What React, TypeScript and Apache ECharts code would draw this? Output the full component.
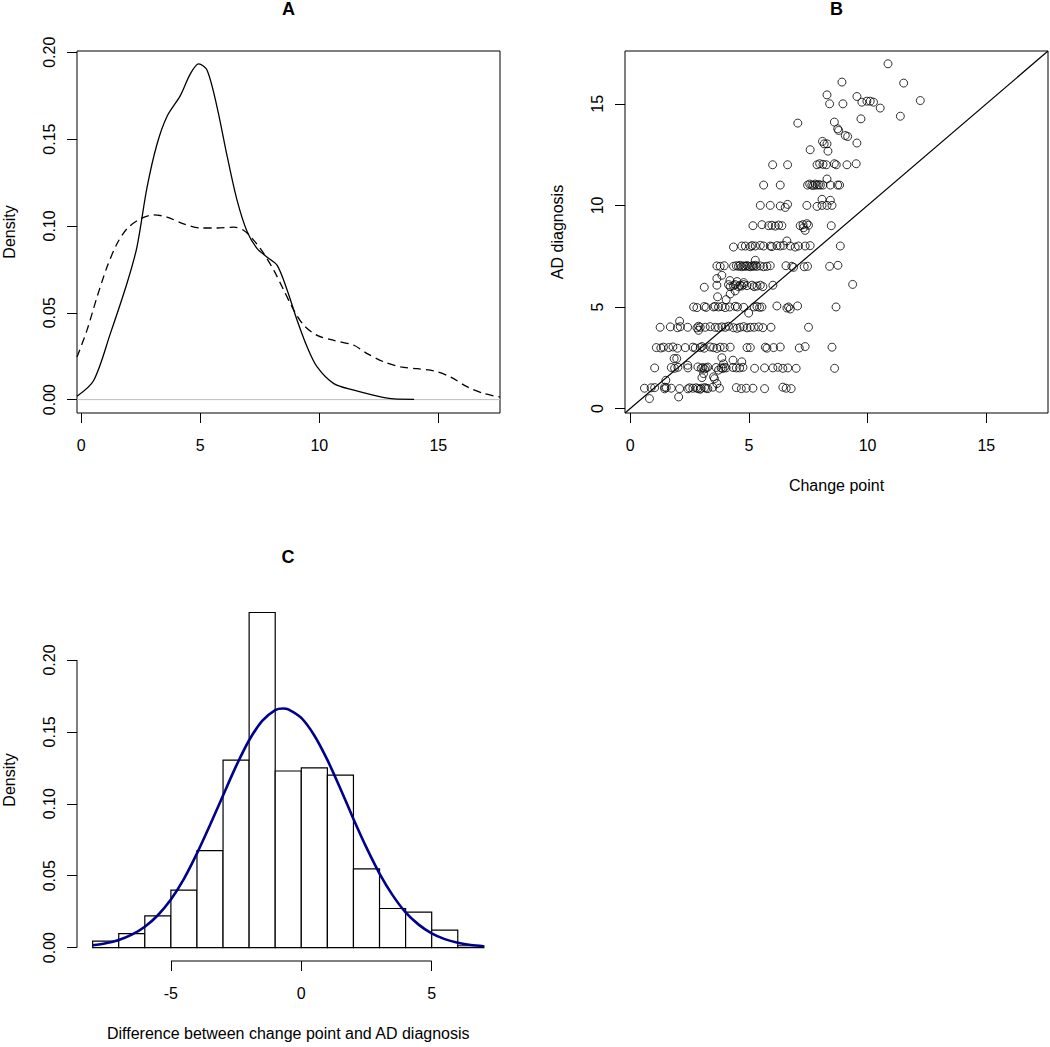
import React, { useEffect, useRef } from "react";
import * as echarts from "echarts";

const FONT = "'Liberation Sans', Arial, sans-serif";

// ---------- Panel A: density curves (x, density) ----------
const solidDensity: number[][] = [
  [-0.18, 0.0019], [0.52, 0.011], [1.22, 0.038], [1.92, 0.067], [2.34, 0.088],
  [2.76, 0.122], [3.18, 0.147], [3.6, 0.163], [4.16, 0.175], [4.58, 0.1875],
  [4.93, 0.1933], [5.29, 0.1895], [5.71, 0.168], [6.13, 0.14], [6.54, 0.115],
  [6.96, 0.097], [7.39, 0.0869], [7.81, 0.082], [8.23, 0.0773], [8.65, 0.063],
  [9.07, 0.0456], [9.49, 0.0303], [9.91, 0.0188], [10.61, 0.0092], [11.45, 0.0054],
  [12.3, 0.0025], [13.14, 0.0004], [13.98, 0.0002],
];
const dashedDensity: number[][] = [
  [-0.18, 0.0245], [0.24, 0.04], [0.66, 0.059], [1.08, 0.0763], [1.5, 0.0897],
  [1.92, 0.0984], [2.48, 0.1041], [3.04, 0.1064], [3.6, 0.1051], [4.3, 0.1012],
  [5.0, 0.0988], [5.71, 0.0988], [6.41, 0.0993], [6.83, 0.0974], [7.25, 0.0917],
  [7.67, 0.084], [8.09, 0.0744], [8.51, 0.0629], [8.93, 0.0514], [9.35, 0.0428],
  [9.91, 0.037], [10.61, 0.0341], [11.45, 0.0313], [12.01, 0.0265], [12.72, 0.0217],
  [13.42, 0.0188], [14.12, 0.0178], [14.82, 0.0165], [15.52, 0.013], [16.22, 0.0073],
  [16.92, 0.0035], [17.59, 0.0015],
];
const aXTicks = [0, 5, 10, 15];
const aYTicks = [0, 0.05, 0.1, 0.15, 0.2];
const aXRange = [-0.18, 17.59];
const aYRange = [-0.0077, 0.2007];

// ---------- Panel B: scatter (change point, AD diagnosis) ----------
const scatterRow1: number[][] = [
  [0.6, 1.0], [0.88, 1.02], [1.03, 1.03], [1.45, 0.97], [1.52, 1.03], [1.73, 1.0], [2.08, 0.98],
  [2.43, 0.97], [2.5, 1.02], [2.64, 1.0], [2.78, 1.02], [2.85, 0.98], [2.99, 1.0], [3.13, 1.03],
  [3.27, 0.98], [3.48, 1.05], [3.76, 1.0], [4.47, 1.03], [4.68, 0.98], [4.89, 1.0], [5.17, 1.0],
  [5.66, 0.98], [6.43, 1.05], [6.57, 1.0], [6.78, 0.98], [0.81, 0.49], [2.04, 0.57], [1.5, 1.39],
  [3.65, 1.23], [3.51, 1.56], [3.02, 1.52], [1.45, 1.05], [2.95, 0.95], [3.2, 1.0], [3.55, 1.47],
];
const scatterRow2: number[][] = [
  [1.03, 2.0], [1.73, 2.02], [1.87, 1.98], [2.01, 2.03], [2.43, 2.0], [2.85, 2.05], [2.99, 1.98],
  [3.06, 2.02], [3.13, 1.95], [3.2, 2.0], [3.27, 2.04], [3.62, 2.02], [3.83, 2.0], [3.9, 1.97],
  [3.97, 2.03], [4.04, 2.0], [4.33, 2.02], [4.47, 2.0], [4.61, 2.0], [4.75, 2.03], [5.24, 1.98],
  [5.66, 2.0], [6.01, 2.0], [6.22, 2.03], [6.43, 1.98], [6.64, 2.0], [6.99, 1.98], [8.61, 1.98],
  [1.85, 2.46], [1.96, 2.46], [4.33, 2.38], [4.7, 2.3], [3.09, 1.72], [3.72, 1.89], [3.93, 2.2],
  [2.42, 2.13], [3.86, 2.5],
];
const scatterRow3: number[][] = [
  [1.1, 3.0], [1.29, 2.98], [1.4, 3.02], [1.62, 3.0], [1.8, 3.03], [1.99, 2.97], [2.32, 3.0],
  [2.64, 3.02], [2.74, 2.98], [2.95, 3.0], [3.02, 3.05], [3.12, 2.97], [3.37, 3.03], [3.51, 3.0],
  [3.65, 2.96], [3.79, 3.02], [3.96, 3.0], [4.21, 3.02], [4.92, 3.0], [5.06, 3.0], [5.69, 3.02],
  [5.76, 2.97], [6.04, 3.0], [6.32, 3.03], [7.12, 2.98], [7.37, 3.05], [8.5, 3.02],
];
const scatterRow4: number[][] = [
  [1.26, 4.0], [1.69, 4.02], [1.99, 3.98], [2.11, 4.03], [2.42, 4.0], [2.81, 3.97], [2.88, 4.05],
  [2.95, 4.0], [3.16, 4.0], [3.37, 4.03], [3.58, 4.0], [3.72, 3.98], [3.86, 4.02], [4.0, 4.0],
  [4.14, 4.05], [4.35, 3.98], [4.63, 4.0], [4.78, 4.03], [4.92, 3.97], [5.06, 4.0], [5.22, 4.0],
  [5.41, 4.02], [5.59, 3.98], [5.93, 4.0], [7.51, 4.0], [2.08, 4.3], [2.88, 3.85], [4.5, 3.95],
];
const scatterRow5: number[][] = [
  [2.67, 5.0], [2.81, 4.97], [3.12, 5.02], [3.2, 4.98], [3.51, 5.0], [3.58, 5.03], [3.72, 5.0],
  [3.86, 5.02], [4.0, 4.97], [4.19, 5.0], [4.42, 5.03], [4.52, 5.0], [4.78, 4.98], [5.22, 5.0],
  [5.34, 5.02], [5.45, 4.98], [5.55, 5.0], [6.18, 5.05], [6.6, 4.95], [6.67, 5.0], [6.74, 4.9],
  [7.05, 5.05], [8.67, 5.0], [4.04, 5.36], [4.99, 4.7], [3.68, 5.5], [4.21, 5.64], [4.42, 5.79],
];
const scatterRow6: number[][] = [
  [3.12, 5.97], [3.65, 6.07], [4.14, 6.1], [4.21, 6.0], [4.35, 6.05], [4.42, 6.1], [4.56, 6.0],
  [4.63, 6.07], [4.7, 6.03], [4.78, 6.1], [4.92, 6.05], [5.13, 6.07], [5.22, 6.0], [5.34, 6.03],
  [5.48, 6.07], [5.59, 6.0], [6.01, 6.07], [9.37, 6.11], [3.65, 6.4], [3.86, 6.56], [4.78, 6.2],
  [4.2, 6.3], [4.5, 6.25],
];
const scatterRow7: number[][] = [
  [3.65, 7.02], [3.79, 7.0], [3.96, 7.03], [4.35, 7.0], [4.47, 7.03], [4.56, 7.0], [4.63, 7.05],
  [4.7, 6.98], [4.78, 7.02], [4.85, 7.0], [4.92, 7.04], [4.99, 7.0], [5.06, 6.98], [5.13, 7.03],
  [5.2, 7.0], [5.27, 7.05], [5.34, 7.0], [5.48, 7.02], [5.62, 6.98], [5.76, 7.0], [5.9, 7.03],
  [6.56, 7.03], [6.81, 7.0], [6.88, 6.95], [7.33, 6.98], [7.47, 7.0], [8.4, 7.0], [8.75, 7.05],
  [5.27, 7.3],
];
const scatterRow8: number[][] = [
  [4.35, 7.95], [4.7, 8.0], [4.85, 8.0], [5.06, 7.97], [5.13, 8.02], [5.27, 8.0], [5.48, 8.03],
  [5.62, 8.0], [5.9, 8.0], [5.97, 7.97], [6.18, 8.02], [6.32, 8.0], [6.46, 8.03], [6.6, 8.25],
  [6.74, 8.0], [6.95, 7.95], [7.09, 8.0], [7.37, 8.0], [7.58, 8.02], [8.85, 8.0],
];
const scatterRow9to10: number[][] = [
  [5.17, 9.0], [5.55, 9.05], [5.83, 9.0], [5.97, 9.02], [6.11, 8.98], [6.25, 9.03], [6.39, 9.0],
  [7.16, 9.0], [7.28, 9.05], [7.37, 8.77], [7.44, 9.1], [7.51, 9.02], [8.47, 9.0], [7.3, 8.9],
  [5.48, 10.0], [5.9, 10.0], [6.32, 9.97], [6.53, 9.9], [6.63, 10.05], [7.44, 10.0], [7.87, 9.95],
  [8.08, 10.0], [8.08, 10.3], [8.29, 10.0], [8.43, 10.25], [8.5, 10.0],
];
const scatterUpper: number[][] = [
  [5.62, 11.0], [6.32, 11.0], [7.47, 11.0], [7.56, 11.05], [7.65, 11.0], [7.72, 10.98], [7.79, 11.05],
  [7.87, 11.0], [7.94, 11.02], [8.01, 11.0], [8.12, 11.0], [8.29, 11.3], [8.43, 11.0], [8.74, 11.0],
  [8.82, 11.0], [6.0, 12.0], [6.63, 12.0], [7.87, 12.0], [7.98, 12.05], [8.12, 12.02], [8.26, 12.0],
  [8.6, 12.05], [8.68, 12.0], [9.13, 12.0], [9.52, 12.05], [7.58, 12.74], [8.33, 12.67],
  [8.17, 13.03], [8.29, 13.03], [9.55, 13.07], [8.1, 13.15], [8.6, 14.1], [8.74, 13.77],
  [8.78, 13.69], [9.06, 13.44], [9.16, 13.39], [7.06, 14.05], [9.72, 14.26], [8.29, 15.44],
  [8.4, 15.0], [8.96, 15.0], [9.55, 15.36], [9.76, 15.08], [9.97, 15.13], [10.11, 15.13],
  [10.25, 15.08], [10.53, 14.79], [11.38, 14.39], [12.22, 15.16], [8.92, 16.07], [11.52, 16.02],
  [10.86, 16.97],
];
const bTicks = [0, 5, 10, 15];
const bRange = [-0.22, 17.6];

// ---------- Panel C: histogram + normal curve ----------
const histBreaks = [-8, -7, -6, -5, -4, -3, -2, -1, 0, 1, 2, 3, 4, 5, 6, 7];
const histDensity = [
  0.0045, 0.0098, 0.0221, 0.04, 0.0674, 0.1303, 0.233, 0.1228, 0.125, 0.12, 0.0548, 0.0272,
  0.0247, 0.0121, 0.0013,
];
const normalCurve: number[][] = [
  [-8, 0.0016], [-7.5, 0.003], [-7, 0.0053], [-6.5, 0.009], [-6, 0.0145], [-5.5, 0.0225],
  [-5, 0.0334], [-4.5, 0.0478], [-4, 0.0655], [-3.5, 0.0852], [-3, 0.1058], [-2.5, 0.1262],
  [-2, 0.1442], [-1.5, 0.1576], [-1, 0.1652], [-0.7, 0.1663], [-0.5, 0.1657], [0, 0.1597],
  [0.5, 0.1475], [1, 0.1305], [1.5, 0.1105], [2, 0.0895], [2.5, 0.0695], [3, 0.0515],
  [3.5, 0.0365], [4, 0.0245], [4.5, 0.016], [5, 0.0099], [5.5, 0.0059], [6, 0.0034],
  [6.5, 0.0018], [7, 0.001],
];
const cXTicks = [-5, 0, 5];
const cYTicks = [0, 0.05, 0.1, 0.15, 0.2];
const cXRange = [-8.6, 7.6];
const cYRange = [-0.0093, 0.2424];

const fmt2 = (v: number) => v.toFixed(2);

function xAxisDef(gridIndex: number, range: number[], ticks: number[], name = "") {
  return {
    type: "value",
    gridIndex,
    min: range[0],
    max: range[1],
    name,
    nameLocation: "middle",
    nameGap: 64,
    nameTextStyle: { fontSize: 16, color: "#000", fontFamily: FONT },
    axisLine: { show: false, onZero: false },
    splitLine: { show: false },
    axisTick: { show: true, length: 10, lineStyle: { color: "#000", width: 1 }, customValues: ticks },
    axisLabel: { color: "#000", fontSize: 16, fontFamily: FONT, margin: 24, customValues: ticks },
  };
}
function yAxisDef(gridIndex: number, range: number[], ticks: number[], name: string, formatter?: (v: number) => string) {
  return {
    type: "value",
    gridIndex,
    min: range[0],
    max: range[1],
    name,
    nameLocation: "middle",
    nameGap: 60,
    nameTextStyle: { fontSize: 16, color: "#000", fontFamily: FONT },
    axisLine: { show: false, onZero: false },
    splitLine: { show: false },
    axisTick: { show: true, length: 10, lineStyle: { color: "#000", width: 1 }, customValues: ticks },
    axisLabel: {
      color: "#000", fontSize: 16, fontFamily: FONT, margin: 20, rotate: 90,
      customValues: ticks, formatter: formatter,
    },
  };
}

export default function App() {
  const ref = useRef<HTMLDivElement>(null);
  useEffect(() => {
    if (!ref.current) return;
    const chart = echarts.init(ref.current, null, { renderer: "svg" });
    const allScatter = [
      ...scatterRow1, ...scatterRow2, ...scatterRow3, ...scatterRow4, ...scatterRow5,
      ...scatterRow6, ...scatterRow7, ...scatterRow8, ...scatterRow9to10, ...scatterUpper,
    ];
    const histData = histDensity.map((d, i) => [histBreaks[i], histBreaks[i + 1], d]);
    const titleStyle = { fontSize: 18, fontWeight: "bold", color: "#000", fontFamily: FONT };
    const option: any = {
      animation: false,
      backgroundColor: "#fff",
      textStyle: { fontFamily: FONT },
      title: [
        { text: "A", left: 288.5, top: 0, textAlign: "center", textStyle: titleStyle, padding: 0 },
        { text: "B", left: 836.5, top: 0, textAlign: "center", textStyle: titleStyle, padding: 0 },
        { text: "C", left: 288, top: 548, textAlign: "center", textStyle: titleStyle, padding: 0 },
      ],
      grid: [
        { left: 77, top: 51, width: 423, height: 362, show: true, borderColor: "#000", borderWidth: 1, backgroundColor: "transparent" },
        { left: 625, top: 51, width: 423, height: 362, show: true, borderColor: "#000", borderWidth: 1, backgroundColor: "transparent" },
        { left: 76.5, top: 599, width: 423, height: 362, show: false },
      ],
      xAxis: [
        xAxisDef(0, aXRange, aXTicks),
        xAxisDef(1, bRange, bTicks, "Change point"),
        xAxisDef(2, cXRange, cXTicks, "Difference between change point and AD diagnosis"),
      ],
      yAxis: [
        yAxisDef(0, aYRange, aYTicks, "Density", fmt2),
        yAxisDef(1, bRange, bTicks, "AD diagnosis"),
        yAxisDef(2, cYRange, cYTicks, "Density", fmt2),
      ],
      series: [
        {
          type: "line", xAxisIndex: 0, yAxisIndex: 0, showSymbol: false, silent: true,
          data: [[aXRange[0], 0], [aXRange[1], 0]],
          lineStyle: { color: "#BEBEBE", width: 1 }, z: 1,
        },
        {
          type: "line", xAxisIndex: 0, yAxisIndex: 0, showSymbol: false, smooth: 0.3,
          data: solidDensity, lineStyle: { color: "#000", width: 1.3 }, z: 3,
        },
        {
          type: "line", xAxisIndex: 0, yAxisIndex: 0, showSymbol: false, smooth: 0.3,
          data: dashedDensity, lineStyle: { color: "#000", width: 1.3, type: [8, 5] }, z: 3,
        },
        {
          type: "line", xAxisIndex: 1, yAxisIndex: 1, showSymbol: false,
          data: [[bRange[0], bRange[0]], [bRange[1], bRange[1]]],
          lineStyle: { color: "#000", width: 1.2 }, z: 2,
        },
        {
          type: "scatter", xAxisIndex: 1, yAxisIndex: 1, symbol: "circle", symbolSize: 8,
          data: allScatter,
          itemStyle: { color: "rgba(0,0,0,0)", borderColor: "#000", borderWidth: 1 }, z: 3,
        },
        {
          type: "custom", xAxisIndex: 2, yAxisIndex: 2, data: histData,
          encode: { x: [0, 1], y: 2 },
          renderItem: (params: any, api: any) => {
            const p0 = api.coord([api.value(0), api.value(2)]);
            const p1 = api.coord([api.value(1), 0]);
            return {
              type: "rect",
              shape: { x: p0[0], y: p0[1], width: p1[0] - p0[0], height: p1[1] - p0[1] },
              style: { fill: "#fff", stroke: "#000", lineWidth: 1.2 },
            };
          },
          z: 2,
        },
        {
          type: "line", xAxisIndex: 2, yAxisIndex: 2, showSymbol: false, smooth: 0.3,
          data: normalCurve, lineStyle: { color: "#00008B", width: 2.6 }, z: 4,
        },
        {
          type: "line", xAxisIndex: 2, yAxisIndex: 2, showSymbol: false, clip: false,
          data: [[cXTicks[0], cYRange[0]], [cXTicks[cXTicks.length - 1], cYRange[0]]],
          lineStyle: { color: "#000", width: 1 }, z: 2,
        },
        {
          type: "line", xAxisIndex: 2, yAxisIndex: 2, showSymbol: false, clip: false,
          data: [[cXRange[0], cYTicks[0]], [cXRange[0], cYTicks[cYTicks.length - 1]]],
          lineStyle: { color: "#000", width: 1 }, z: 2,
        },
      ],
    };
    chart.setOption(option);
    return () => chart.dispose();
  }, []);
  return (
    <div
      ref={ref}
      style={{ position: "absolute", left: 0, top: 0, width: 1050, height: 1047, background: "#fff" }}
    />
  );
}
